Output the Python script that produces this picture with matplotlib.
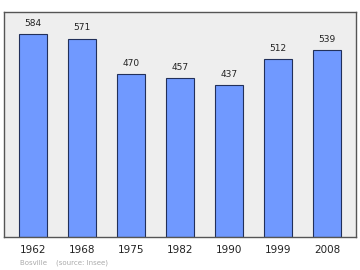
import matplotlib
matplotlib.use("Agg")
import matplotlib.pyplot as plt

# Population data
years = ["1962", "1968", "1975", "1982", "1990", "1999", "2008"]
population = [584, 571, 470, 457, 437, 512, 539]

fig = plt.figure(figsize=(3.6, 2.7), dpi=100)
ax = fig.add_axes([4/360, 1 - 237/270, 352/360, 225/270])
ax.set_facecolor("#eeeeee")

x = list(range(len(years)))
ax.bar(x, population, width=0.57, color="#7099ff", edgecolor="#22305a", linewidth=0.8, zorder=2)

for xi, v in zip(x, population):
    ax.text(xi, v + 18, str(v), ha="center", va="bottom", fontsize=6.5, color="#222222")

ax.set_xlim(-0.59, 6.59)
ax.set_ylim(0, 648)
ax.set_xticks(x)
ax.set_xticklabels(years, fontsize=7.5, color="#222222")
ax.tick_params(axis="x", length=0, pad=6)
ax.set_yticks([])
for s in ax.spines.values():
    s.set_color("#555555")
    s.set_linewidth(1.0)

fig.text(20/360, 1 - 263/270, "Bosville    (source: Insee)", fontsize=5, color="#aaaaaa", va="center")

fig.savefig("out.png", dpi=100)
